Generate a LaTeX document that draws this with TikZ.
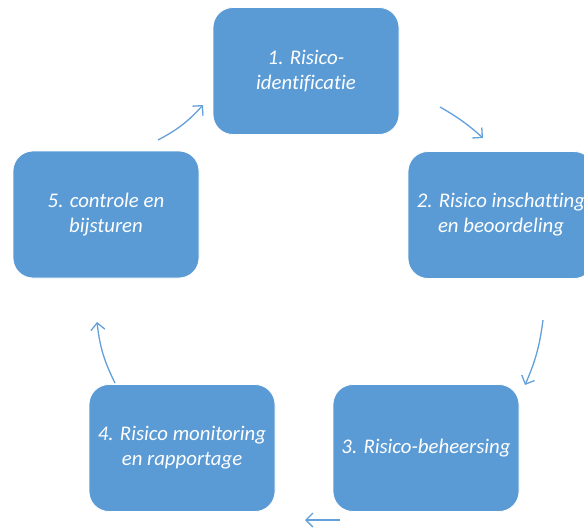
\documentclass[tikz,border=0pt]{standalone}
\usepackage{fontspec}
\setmainfont{Carlito}[Ligatures={NoCommon}]
\usetikzlibrary{arrows.meta}
\definecolor{boxblue}{RGB}{91,155,213}
\definecolor{arrowblue}{RGB}{100,160,218}
\tikzset{
  stepbox/.style={draw=white, line width=0.8pt, fill=boxblue, rounded corners=20pt,
    minimum width=186pt, minimum height=127pt, inner sep=2pt, align=center,
    text=white, font=\fontsize{20.8}{25}\selectfont\itshape},
  flow/.style={draw=arrowblue, line width=1.3pt,
    -{Straight Barb[length=7pt,width=14pt,line width=1.3pt]}}
}
\begin{document}
\begin{tikzpicture}[x=1pt,y=-1pt]
\clip (0,0) rectangle (584,528);
\fill[white] (0,0) rectangle (584,528);
\node[stepbox] (b1) at (306,71) {1. Risico-\\identificatie};
\node[stepbox] (b2) at (501,215) {2. Risico inschatting\\en beoordeling};
\node[stepbox] (b3) at (426,448) {3. Risico-beheersing};
\node[stepbox] (b4) at (182,448) {4. Risico monitoring\\en rapportage};
\node[stepbox] (b5) at (106,214.5) {5. controle en\\bijsturen};
\coordinate (a1s) at (440,107);
\coordinate (a1e) at (483,138);
\coordinate (a2s) at (543,320);
\coordinate (a2e) at (525,385);
\coordinate (a3s) at (340,520);
\coordinate (a3e) at (305,520);
\coordinate (a4s) at (115,383);
\coordinate (a4e) at (97,322);
\coordinate (a5s) at (158,140);
\coordinate (a5e) at (203,105);
\draw[flow] (a1s) to[bend left=6] (a1e);
\draw[flow] (a2s) to[bend left=8] (a2e);
\draw[flow] (a3s) -- (a3e);
\draw[flow] (a4s) to[bend left=10] (a4e);
\draw[flow] (a5s) to[bend right=10] (a5e);
\end{tikzpicture}
\end{document}
